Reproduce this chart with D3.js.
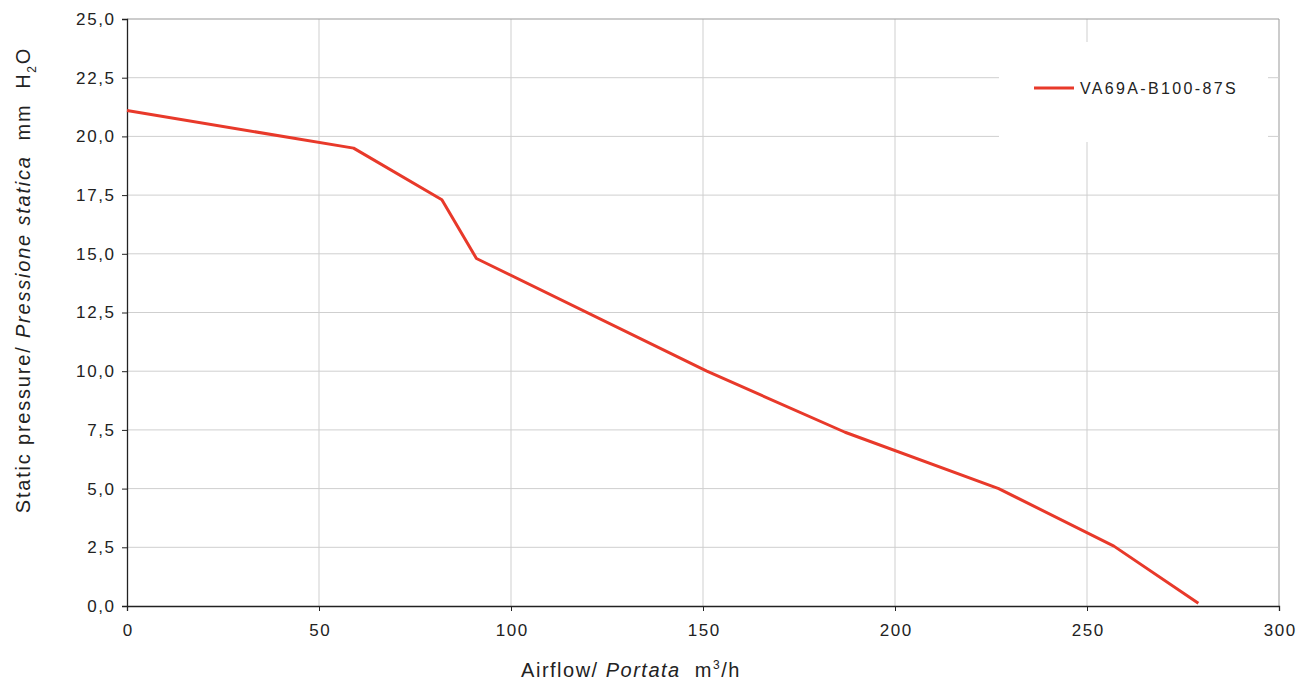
<!DOCTYPE html>
<html><head><meta charset="utf-8">
<script src="https://cdn.jsdelivr.net/npm/d3@7"></script>
<style>
body{margin:0;background:#fff;}
text{font-family:"Liberation Sans",Arial,sans-serif;fill:#222;white-space:pre;}
</style></head>
<body><svg id="c" width="1314" height="697"></svg>
<script>
const airflow = [0, 59, 82, 91, 151, 187, 227, 257, 279];
const pressure = [21.1, 19.5, 17.3, 14.8, 10.0, 7.4, 5.0, 2.55, 0.12];
const xTicks = [0, 50, 100, 150, 200, 250, 300];
const yTicks = [0, 2.5, 5, 7.5, 10, 12.5, 15, 17.5, 20, 22.5, 25];
const seriesName = "VA69A-B100-87S";

const svg = d3.select("#c");
const L = 127, R = 1279, T = 19, B = 606;
const x = d3.scaleLinear().domain([0, 300]).range([L, R]);
const y = d3.scaleLinear().domain([0, 25]).range([B, T]);
const fmt = d => d3.format(".1f")(d).replace(".", ",");

// grid
const g = svg.append("g");
g.selectAll(".gx").data(xTicks.slice(1)).join("line")
  .attr("x1", d => x(d)).attr("x2", d => x(d)).attr("y1", T).attr("y2", B)
  .attr("stroke", d => d === 300 ? "#999" : "#cfcfcf").attr("stroke-width", 1);
g.selectAll(".gy").data(yTicks.slice(1)).join("line")
  .attr("x1", L).attr("x2", R).attr("y1", d => y(d)).attr("y2", d => y(d))
  .attr("stroke", d => d === 25 ? "#999" : "#cfcfcf").attr("stroke-width", 1);

// legend box (white, covers grid)
svg.append("rect").attr("x", 999).attr("y", 42).attr("width", 269).attr("height", 100).attr("fill", "#fff");

// axes
const ax = svg.append("g").attr("transform", `translate(0,${B})`)
  .call(d3.axisBottom(x).tickValues(xTicks).tickSize(5).tickPadding(8));
const ay = svg.append("g").attr("transform", `translate(${L},0)`)
  .call(d3.axisLeft(y).tickValues(yTicks).tickFormat(fmt).tickSize(5).tickPadding(8));
[ax, ay].forEach(a => {
  a.select(".domain").attr("stroke", "#222").attr("stroke-width", 1.3);
  a.selectAll(".tick line").attr("stroke", "#222");
  a.selectAll(".tick text").style("font-size", "17px").attr("fill", "#222")
   .style("letter-spacing", "1.6px")
   .style("font-family", '"Liberation Sans",Arial,sans-serif');
});
ax.selectAll(".tick text").attr("dy", "1.0em").attr("dx", "0.8px");
ay.selectAll(".tick text").attr("dx", "1.6px");

// line
const data = airflow.map((a, i) => [a, pressure[i]]);
svg.append("path").datum(data)
  .attr("fill", "none").attr("stroke", "#e8392a").attr("stroke-width", 3)
  .attr("stroke-linejoin", "round")
  .attr("d", d3.line().x(d => x(d[0])).y(d => y(d[1])));

// legend
svg.append("line").attr("x1", 1034).attr("x2", 1074).attr("y1", 88).attr("y2", 88)
  .attr("stroke", "#e8392a").attr("stroke-width", 3);
svg.append("text").attr("x", 1080).attr("y", 94).style("font-size", "16px")
  .style("letter-spacing", "2.35px").text(seriesName);

// x axis label
const xl = svg.append("text").attr("x", 631).attr("y", 677).attr("text-anchor", "middle")
  .style("font-size", "20px").style("letter-spacing", "1.5px");
xl.append("tspan").text("Airflow/ ");
xl.append("tspan").attr("font-style", "italic").text("Portata");
xl.append("tspan").text("  m");
xl.append("tspan").attr("dy", -8).style("font-size", "12px").text("3");
xl.append("tspan").attr("dy", 8).text("/h");

// y axis label
const yl = svg.append("text").attr("transform", "translate(30,280) rotate(-90)").attr("text-anchor", "middle")
  .style("font-size", "20px").style("letter-spacing", "1.8px");
yl.append("tspan").text("Static pressure/ ");
yl.append("tspan").attr("font-style", "italic").text("Pressione statica");
yl.append("tspan").text("  mm  H");
yl.append("tspan").attr("dy", 6).style("font-size", "12px").text("2");
yl.append("tspan").attr("dy", -6).text("O");
</script></body></html>
